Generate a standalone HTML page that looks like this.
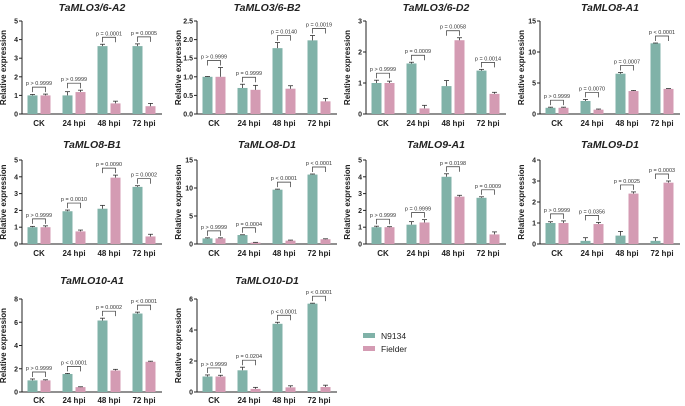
<!DOCTYPE html>
<html><head><meta charset="utf-8"><style>
body{margin:0;background:#fff;}
svg{display:block;font-family:"Liberation Sans",Arial,sans-serif;}
</style></head><body>
<svg id="c" width="685" height="406" viewBox="0 0 685 406"></svg>
<script>
const categories = ["CK","24 hpi","48 hpi","72 hpi"];
const titles = ["TaMLO3/6-A2","TaMLO3/6-B2","TaMLO3/6-D2","TaMLO8-A1","TaMLO8-B1","TaMLO8-D1","TaMLO9-A1","TaMLO9-D1","TaMLO10-A1","TaMLO10-D1"];
const yMax = [5,2.5,3,15,5,15,5,4,8,6];
const yStep = [1,0.5,1,5,1,5,1,1,2,2];
const n9134 = [[1,1,3.65,3.65],[1,0.7,1.77,1.98],[1,1.63,0.9,1.4],[1,2.1,6.5,11.4],[1,1.95,2.1,3.4],[1,1.6,9.7,12.4],[1,1.15,4,2.75],[1,0.15,0.4,0.15],[1,1.55,6.15,6.75],[1,1.4,4.4,5.7]];
const n9134Err = [[0.05,0.2,0.1,0.12],[0.01,0.1,0.15,0.13],[0.09,0.04,0.18,0.04],[0.1,0.25,0.2,0.05],[0.05,0.07,0.2,0.07],[0.1,0.05,0.1,0.1],[0.06,0.18,0.18,0.06],[0.06,0.15,0.2,0.15],[0.12,0.05,0.2,0.12],[0.1,0.2,0.1,0.03]];
const fielder = [[1,1.18,0.57,0.42],[1,0.65,0.68,0.34],[1,0.18,2.38,0.65],[1,0.7,3.7,4.05],[1,0.75,3.95,0.45],[1,0.25,0.6,0.85],[1,1.28,2.82,0.57],[1,0.95,2.4,2.92],[1,0.42,1.85,2.6],[1,0.2,0.3,0.32]];
const fielderErr = [[0.07,0.1,0.12,0.15],[0.25,0.12,0.08,0.08],[0.06,0.1,0.08,0.05],[0.1,0.1,0.1,0.05],[0.08,0.08,0.15,0.13],[0.1,0.05,0.1,0.08],[0.03,0.17,0.08,0.15],[0.1,0.08,0.08,0.08],[0.05,0.03,0.1,0.05],[0.08,0.1,0.1,0.12]];
const pLabels = [["p > 0.9999","p > 0.9999","p = 0.0001","p = 0.0005"],["p > 0.9999","p = 0.9999","p = 0.0140","p = 0.0019"],["p > 0.9999","p = 0.0009","p = 0.0058","p = 0.0014"],["p > 0.9999","p = 0.0070","p = 0.0007","p < 0.0001"],["p > 0.9999","p = 0.0010","p = 0.0090","p = 0.0002"],["p > 0.9999","p = 0.0004","p < 0.0001","p < 0.0001"],["p > 0.9999","p = 0.9999","p = 0.0198","p = 0.0009"],["p > 0.9999","p = 0.0356","p = 0.0025","p = 0.0003"],["p > 0.9999","p < 0.0001","p = 0.0002","p < 0.0001"],["p > 0.9999","p = 0.0204","p < 0.0001","p < 0.0001"]];

const G="#80b2a8", P="#d49bb3";
const svg=document.getElementById('c');
const NS="http://www.w3.org/2000/svg";
function mk(tag,attrs,parent){const e=document.createElementNS(NS,tag);for(const k in attrs)e.setAttribute(k,attrs[k]);(parent||svg).appendChild(e);return e;}
const colX=[22,197,366,540];
const rows=[{top:21,zero:114,lab:126,title:11},{top:160,zero:244,lab:256,title:148},{top:299,zero:392,lab:403,title:284}];

titles.forEach((t,i)=>{
  const A=colX[i%4], R=rows[Math.floor(i/4)];
  const g=mk('g',{});
  
  
  const y=v=>R.zero-(v/yMax[i])*(R.zero-R.top);
  const cx=k=>A+17+k*35;
  const tt=mk('text',{x:A+70,y:R.title,'text-anchor':'middle','font-size':'10.5','font-weight':'bold','font-style':'italic',fill:'#222'},g);
  tt.textContent=t;
  
  
  const yt=mk('text',{x:0,y:0,transform:`translate(${A-16},${(R.top+R.zero)/2}) rotate(-90)`,'text-anchor':'middle','font-size':'8','font-weight':'bold',fill:'#222'},g);
  yt.textContent='Relative expression';
  
  
  mk('line',{x1:A,y1:R.top,x2:A,y2:R.zero,stroke:'#222','stroke-width':1},g);
  mk('line',{x1:A,y1:R.zero,x2:A+140,y2:R.zero,stroke:'#222','stroke-width':1},g);
  for(let v=0;v<=yMax[i]+1e-9;v+=yStep[i]){
    mk('line',{x1:A-3,y1:y(v),x2:A,y2:y(v),stroke:'#222'},g);
    const tl=mk('text',{x:A-4,y:y(v)+2.5,'text-anchor':'end','font-size':'7','font-weight':'bold',fill:'#222'},g);
    tl.textContent=(yStep[i]<1)?v.toFixed(1):String(v);
    
    
  }
  categories.forEach((c,k)=>{
    const cl=mk('text',{x:cx(k),y:R.lab,'text-anchor':'middle','font-size':'8','font-weight':'bold',fill:'#222'},g);
    cl.textContent=c;
    
    
    const gx=cx(k)-6.5, px=cx(k)+6.5;
    [[gx,n9134[i][k],n9134Err[i][k],G,'n9134'],[px,fielder[i][k],fielderErr[i][k],P,'fielder']].forEach(([x,v,e,col,nm])=>{
      const r=mk('rect',{x:x-5,y:y(v),width:10,height:R.zero-y(v),fill:col},g);
      
      
      mk('line',{x1:x,y1:y(v),x2:x,y2:y(v+e),stroke:'#333','stroke-width':0.8},g);
      mk('line',{x1:x-2.5,y1:y(v+e),x2:x+2.5,y2:y(v+e),stroke:'#333','stroke-width':0.8},g);
    });
    const top=Math.min(y(n9134[i][k]+n9134Err[i][k]),y(fielder[i][k]+fielderErr[i][k]))-7;
    mk('path',{d:`M${gx},${top+5}V${top}H${px}V${top+5}`,fill:'none',stroke:'#333','stroke-width':0.7},g);
    const pl=mk('text',{x:cx(k),y:top-2,'text-anchor':'middle','font-size':'5.5',fill:'#333'},g);
    pl.textContent=pLabels[i][k];
    
    
  });
});
const lg=mk('g',{});


[[G,'N9134',337],[P,'Fielder',350]].forEach(([c,t,yy])=>{
  mk('rect',{x:363,y:yy-4,width:12,height:5,fill:c},lg);
  const lt=mk('text',{x:381,y:yy+2,'font-size':'8.5',fill:'#222'},lg);
  lt.textContent=t;
  
  
});
</script>
</body></html>
